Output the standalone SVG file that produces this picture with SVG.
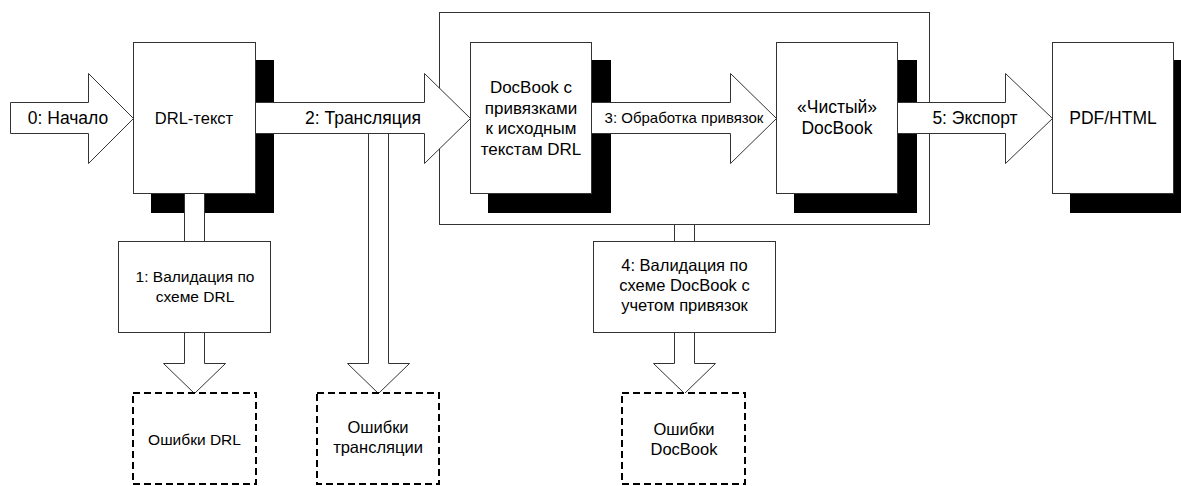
<svg xmlns="http://www.w3.org/2000/svg" width="1181" height="486" viewBox="0 0 1181 486">
<style>
.box{fill:#fff;stroke:#333;stroke-width:1}
.shadow{fill:#000}
.arrow{fill:#fff;stroke:#333;stroke-width:1;stroke-linejoin:miter}
.dash{fill:#fff;stroke:#000;stroke-width:2;stroke-dasharray:7 4}
text{font-family:"Liberation Sans",Arial,sans-serif;font-size:15px;fill:#000;text-anchor:middle}
text.big{font-size:17.5px}
text.doc{font-size:17px}
text.mid{font-size:16.5px}
text.sm{font-size:15.5px}
</style>
<rect width="1181" height="486" fill="#fff"/>
<g id="container">
<rect class="box" x="439.5" y="12.5" width="490" height="212"/>
</g>
<g id="shadows">
<rect class="shadow" x="151" y="60" width="123" height="153"/>
<rect class="shadow" x="488" y="60" width="123" height="153"/>
<rect class="shadow" x="794" y="60" width="123" height="153"/>
<rect class="shadow" x="1070" y="60" width="123" height="153"/>
</g>
<g id="connectors">
<path class="arrow" d="M184.5,193.5 V363.5 H163.5 L194.5,393.5 L225.5,363.5 H204.5 V193.5 Z"/>
<path class="arrow" d="M368.5,133.5 V363.5 H347.5 L378.5,393.5 L409.5,363.5 H388.5 V133.5 Z"/>
<path class="arrow" d="M674.5,224.5 V363.5 H653.5 L684.5,393.5 L715.5,363.5 H694.5 V224.5 Z"/>
<path class="arrow" d="M10.5,102.5 H88.5 V73.5 L133.5,118.5 L88.5,163.5 V133.5 H10.5 Z"/>
<path class="arrow" d="M255.5,102.5 H424.5 V73.5 L470.5,118.5 L424.5,163.5 V133.5 H255.5 Z"/>
<path class="arrow" d="M591.5,102.5 H730.5 V73.5 L776.5,118.5 L730.5,163.5 V133.5 H591.5 Z"/>
<path class="arrow" d="M897.5,102.5 H1005.5 V73.5 L1052.5,118.5 L1005.5,163.5 V133.5 H897.5 Z"/>
<text class="big" x="68" y="124">0: Начало</text>
<text class="big" x="363" y="124">2: Трансляция</text>
<text x="684" y="123">3: Обработка привязок</text>
<text class="big" x="975" y="124">5: Экспорт</text>
</g>
<g id="drl-text">
<rect class="box" x="133.5" y="42.5" width="122" height="151"/>
<text class="mid" x="194" y="124">DRL-текст</text>
</g>
<g id="docbook-links">
<rect class="box" x="470.5" y="42.5" width="121" height="151"/>
<text class="doc" x="531" y="93">DocBook с</text>
<text class="doc" x="531" y="113.5">привязками</text>
<text class="doc" x="531" y="134">к исходным</text>
<text class="doc" x="531" y="154.5">текстам DRL</text>
</g>
<g id="clean-docbook">
<rect class="box" x="776.5" y="42.5" width="121" height="151"/>
<text class="big" x="837" y="113">«Чистый»</text>
<text class="big" x="837" y="134">DocBook</text>
</g>
<g id="pdf-html">
<rect class="box" x="1052.5" y="42.5" width="121" height="151"/>
<text class="big" x="1113" y="124">PDF/HTML</text>
</g>
<g id="validate-drl">
<rect class="box" x="118.5" y="241.5" width="152" height="91"/>
<text class="sm" x="195" y="282">1: Валидация по</text>
<text class="sm" x="195" y="302">схеме DRL</text>
</g>
<g id="validate-docbook">
<rect class="box" x="593.5" y="241.5" width="182" height="91"/>
<text class="mid" x="684.5" y="271">4: Валидация по</text>
<text class="mid" x="684.5" y="291">схеме DocBook с</text>
<text class="mid" x="684.5" y="311">учетом привязок</text>
</g>
<g id="errors-drl">
<rect class="dash" x="133" y="393" width="123" height="91"/>
<text class="sm" x="194.5" y="445">Ошибки DRL</text>
</g>
<g id="errors-translation">
<rect class="dash" x="317" y="393" width="122" height="91"/>
<text class="mid" x="378" y="433">Ошибки</text>
<text class="mid" x="378" y="453">трансляции</text>
</g>
<g id="errors-docbook">
<rect class="dash" x="622" y="393" width="123" height="91"/>
<text class="mid" x="684" y="435">Ошибки</text>
<text class="mid" x="684" y="455">DocBook</text>
</g>
</svg>
